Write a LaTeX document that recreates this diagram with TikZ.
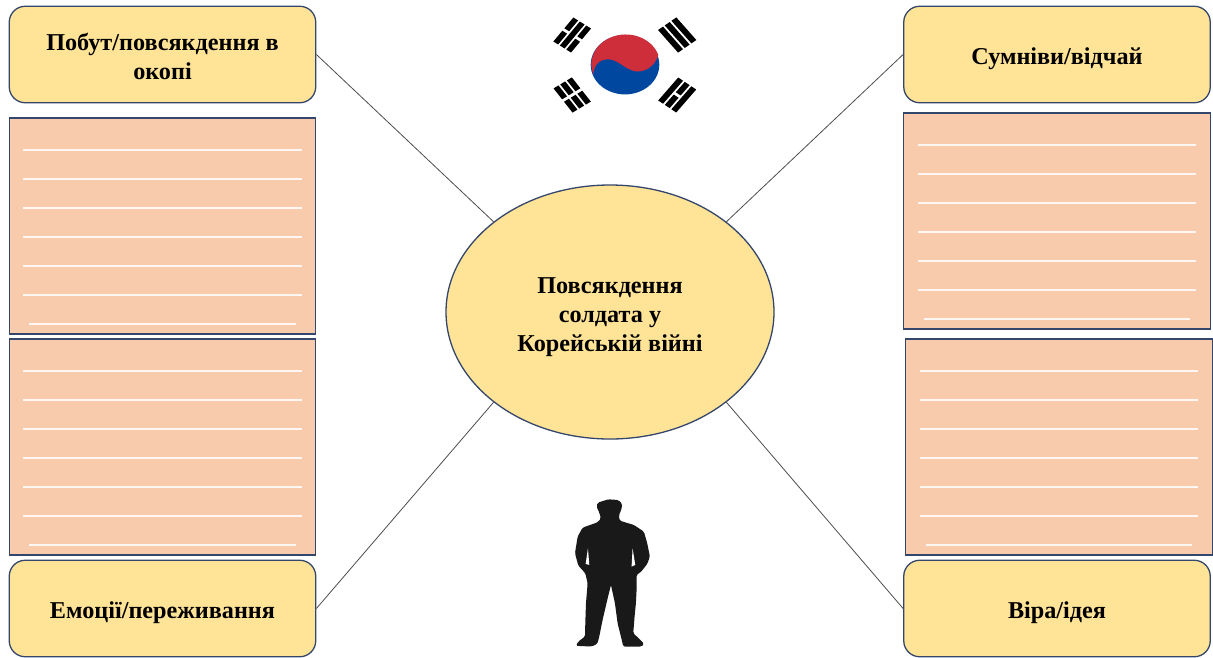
\documentclass[tikz,border=0pt]{standalone}
\usepackage{fontspec}
\setmainfont{Liberation Serif}
\usetikzlibrary{shapes.geometric}
\definecolor{capfill}{HTML}{FFE397}
\definecolor{notefill}{HTML}{F8CBAD}
\definecolor{edgeblue}{HTML}{34466B}
\definecolor{flagred}{HTML}{CD2E3A}
\definecolor{flagblue}{HTML}{0047A0}
\tikzset{
  lowertext/.style={execute at begin node={\rule{0pt}{#1}}},
  capbox/.style={draw=edgeblue, fill=capfill, line width=1.3pt, rounded corners=16pt, minimum width=306.5pt, minimum height=96.5pt, inner sep=0pt, align=center, font=\fontsize{24.2}{29}\selectfont\bfseries},
  notebox/.style={draw=edgeblue, fill=notefill, line width=1.3pt, minimum width=306.5pt, minimum height=216pt, inner sep=0pt},
  hubnode/.style={draw=edgeblue, fill=capfill, line width=1.3pt, ellipse, minimum width=328pt, minimum height=254pt, inner sep=0pt, align=center, font=\fontsize{24.2}{29}\selectfont\bfseries},
  spokeline/.style={draw=black!70, line width=.8pt},
  ruleline/.style={draw=white!85!notefill, line width=1.2pt}
}
\newcommand{\trigram}[7]{
\begin{scope}[shift={(#1,#2)}, x={(#3pt,#4pt)}, y={(#5pt,#6pt)}]
\foreach \v/\b in {#7} {
  \ifnum\b=0
    \fill [black] (-1,\v-.27) -- (1,\v-.27) -- (1,\v+.27) -- (-1,\v+.27) -- cycle;
  \else
    \fill [black] (-1,\v-.27) -- (-.1,\v-.27) -- (-.1,\v+.27) -- (-1,\v+.27) -- cycle;
    \fill [black] (.1,\v-.27) -- (1,\v-.27) -- (1,\v+.27) -- (.1,\v+.27) -- cycle;
  \fi
}
\end{scope}
}
\begin{document}
\begin{tikzpicture}[x=1pt, y=-1pt]
\useasboundingbox (0,0) rectangle (1213,657);
\node [hubnode] (h) at (610,312) {\rule{0pt}{27pt}Повсякдення\\солдата у\\Корейській війні};
\node [capbox] (c1) at (162.5,54.5) {\rule{0pt}{21pt}Побут/повсякдення в\\окопі};
\node [capbox, lowertext=25pt] (c2) at (1057,54.5) {Сумніви/відчай};
\node [capbox, lowertext=25pt] (c3) at (162.5,608.5) {Емоції/переживання};
\node [capbox, lowertext=25pt] (c4) at (1057,608.5) {Віра/ідея};
\node [notebox] (n1) at (162.5,226) {};
\node [notebox] (n2) at (162.5,447) {};
\node [notebox] (n3) at (1057,221) {};
\node [notebox] (n4) at (1059,447) {};
\draw [spokeline] (h.north west) -- (c1.east);
\draw [spokeline] (h.north east) -- (c2.west);
\draw [spokeline] (h.south west) -- (c3.east);
\draw [spokeline] (h.south east) -- (c4.west);
\foreach \n in {n1,n2,n3,n4} {
  \foreach \k in {0,...,5}
    \draw [ruleline] ([xshift=14.65pt, yshift=-32.65pt-\k*29pt]\n.north west) -- ([xshift=-14.65pt, yshift=-32.65pt-\k*29pt]\n.north east);
  \draw [ruleline] ([xshift=20.65pt, yshift=-206.65pt]\n.north west) -- ([xshift=-20.65pt, yshift=-206.65pt]\n.north east);
}
\fill [flagblue] (625,64.7) ellipse [x radius=34.3, y radius=29.7];
\fill [flagred] (658.3,55) arc [start angle=-18, end angle=-200, x radius=34.3, y radius=29.7]
  .. controls (594,62) and (603,58.5) .. (610,59.5)
  .. controls (620,61) and (624,69) .. (636,71.5)
  .. controls (646,72) and (655,66) .. (658.3,55) -- cycle;
\trigram{572.2}{35}{10}{12}{8.85}{-5.5}{-.73/1,0/0,.73/1}
\trigram{677.2}{35}{10}{-11.3}{9.15}{6.3}{-.73/0,0/0,.73/0}
\trigram{572.2}{95}{9.5}{-12.1}{9.15}{5.5}{-.73/1,0/1,.73/1}
\trigram{677.2}{95}{10}{11.5}{9}{-6}{-.73/0,0/1,.73/0}
\begin{scope}[shift={(550,490)}, x=.333pt, y=-.333pt]
\fill [black!90, rounded corners=1.5pt] (175,28) -- (205,30) -- (217,42) -- (214,60) -- (207,75) -- (209,92) -- (252,105) -- (282,125) -- (292,160) -- (300,200) -- (292,222) -- (274,245) -- (260,255) -- (260,300) -- (258,340) -- (254,380) -- (250,430) -- (266,445) -- (283,462) -- (275,470) -- (220,470) -- (213,440) -- (203,400) -- (195,340) -- (183,285) -- (172,330) -- (158,390) -- (148,440) -- (142,462) -- (125,470) -- (78,468) -- (85,455) -- (105,440) -- (106,400) -- (108,340) -- (113,280) -- (106,250) -- (85,227) -- (75,190) -- (83,140) -- (98,113) -- (143,97) -- (153,85) -- (148,68) -- (140,50) -- (143,38) -- cycle;
\fill [white] (114,175) -- (118,225) -- (107,222) -- cycle;
\fill [white] (248,175) -- (256,225) -- (245,230) -- cycle;
\end{scope}
\end{tikzpicture}
\end{document}
